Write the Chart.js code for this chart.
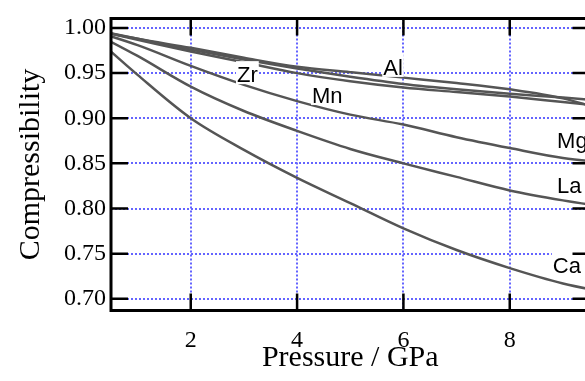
<!DOCTYPE html>
<html>
<head>
<meta charset="utf-8">
<script src="https://cdn.jsdelivr.net/npm/chart.js@4/dist/chart.umd.min.js"></script>
<style>
html, body { margin:0; padding:0; background:#fff; overflow:hidden; }
#wrap { position:absolute; left:0; top:0; width:600px; height:381px; }
</style>
</head>
<body>
<div id="wrap"><canvas id="chart" width="600" height="381"></canvas></div>
<script>
// pressure in GPa, V/V0
const pressure = [0, 1, 2, 3, 4, 5, 6, 7, 8, 9, 10];
const zr = [1.0, 0.988, 0.976, 0.965, 0.955, 0.946, 0.938, 0.932, 0.927, 0.923, 0.918];
const al = [1.0, 0.988, 0.978, 0.967, 0.957, 0.951, 0.945, 0.939, 0.932, 0.922, 0.905];
const mn = [1.0, 0.987, 0.974, 0.962, 0.950, 0.941, 0.934, 0.929, 0.924, 0.918, 0.912];
const mg = [1.0, 0.981, 0.958, 0.937, 0.919, 0.904, 0.893, 0.879, 0.867, 0.856, 0.850];
const la = [1.0, 0.969, 0.935, 0.908, 0.886, 0.866, 0.850, 0.835, 0.820, 0.809, 0.800];
const ca = [1.0, 0.948, 0.900, 0.865, 0.834, 0.806, 0.778, 0.754, 0.734, 0.717, 0.705];

const xTicks = [2, 4, 6, 8];
const yTicks = [0.70, 0.75, 0.80, 0.85, 0.90, 0.95, 1.00];

// curve labels: text, left edge (GPa) and baseline (V/V0)
const labelText = ['Zr', 'Al', 'Mn', 'Mg', 'La', 'Ca'];
const labelX = [2.87, 5.62, 4.28, 8.89, 8.89, 8.81];
const labelY = [0.940, 0.948, 0.917, 0.867, 0.817, 0.729];

const serif = '"Liberation Serif", "Times New Roman", serif';
const sans = '"Liberation Sans", Arial, sans-serif';

const series = [zr, al, mn, mg, la, ca];
const datasets = series.map((vals, i) => ({
    label: labelText[i],
    data: pressure.map((p, j) => ({x: p, y: vals[j]})),
    borderColor: '#555555',
    borderWidth: 2.5,
    pointRadius: 0,
    cubicInterpolationMode: 'monotone',
    fill: false
}));

// labels with white boxes, then inward ticks and the frame on top
const frame = {
    id: 'frame',
    afterDatasetsDraw(chart) {
        const {ctx, chartArea: a, scales: {x, y}} = chart;
        ctx.save();
        ctx.font = '22px ' + sans;
        ctx.textAlign = 'left';
        ctx.textBaseline = 'alphabetic';
        labelText.forEach((t, i) => {
            const px = x.getPixelForValue(labelX[i]);
            const py = y.getPixelForValue(labelY[i]);
            const w = ctx.measureText(t).width;
            ctx.fillStyle = '#fff';
            ctx.fillRect(px - 1, py - 21, w + 2, 23);
            ctx.fillStyle = '#000';
            ctx.fillText(t, px, py);
        });
        ctx.strokeStyle = '#000';
        ctx.lineWidth = 2.5;
        ctx.beginPath();
        yTicks.forEach(v => {
            const py = y.getPixelForValue(v);
            ctx.moveTo(a.left, py); ctx.lineTo(a.left + 17, py);
            ctx.moveTo(a.right, py); ctx.lineTo(a.right - 17, py);
        });
        xTicks.forEach(v => {
            const px = x.getPixelForValue(v);
            ctx.moveTo(px, a.bottom); ctx.lineTo(px, a.bottom - 17);
            ctx.moveTo(px, a.top); ctx.lineTo(px, a.top + 17);
        });
        ctx.stroke();
        ctx.lineWidth = 3;
        ctx.strokeRect(a.left, a.top, a.right - a.left, a.bottom - a.top);
        ctx.restore();
    }
};

new Chart(document.getElementById('chart').getContext('2d'), {
    type: 'line',
    data: {datasets: datasets},
    plugins: [frame],
    options: {
        responsive: false,
        animation: false,
        devicePixelRatio: 1,
        events: [],
        layout: {padding: {top: 18.5, right: 10.5, left: 0, bottom: 0}},
        plugins: {
            legend: {display: false},
            tooltip: {enabled: false}
        },
        scales: {
            x: {
                type: 'linear',
                min: 0.5,
                max: 9.5,
                afterBuildTicks: s => { s.ticks = xTicks.map(v => ({value: v})); },
                afterFit: s => { s.height = 70.5; s.paddingLeft = 0; s.paddingRight = 0; },
                grid: {color: '#6464ff', lineWidth: 2, drawTicks: false},
                border: {display: false, dash: [2, 2]},
                ticks: {
                    color: '#000',
                    font: {family: serif, size: 24},
                    padding: 16,
                    maxRotation: 0,
                    autoSkip: false
                },
                title: {
                    display: true,
                    text: 'Pressure / GPa',
                    color: '#000',
                    font: {family: serif, size: 30},
                    padding: {top: 0, bottom: 5}
                }
            },
            y: {
                min: 0.687,
                max: 1.0105,
                afterBuildTicks: s => { s.ticks = yTicks.map(v => ({value: v})); },
                afterFit: s => { s.width = 111; s.paddingTop = 0; s.paddingBottom = 0; },
                grid: {color: '#6464ff', lineWidth: 2, drawTicks: false},
                border: {display: false, dash: [2, 2]},
                ticks: {
                    color: '#000',
                    font: {family: serif, size: 24},
                    padding: 5,
                    callback: v => v.toFixed(2)
                },
                title: {
                    display: true,
                    text: 'Compressibility',
                    color: '#000',
                    font: {family: serif, size: 30},
                    padding: {top: 13, bottom: 0}
                }
            }
        }
    }
});
</script>
</body>
</html>
